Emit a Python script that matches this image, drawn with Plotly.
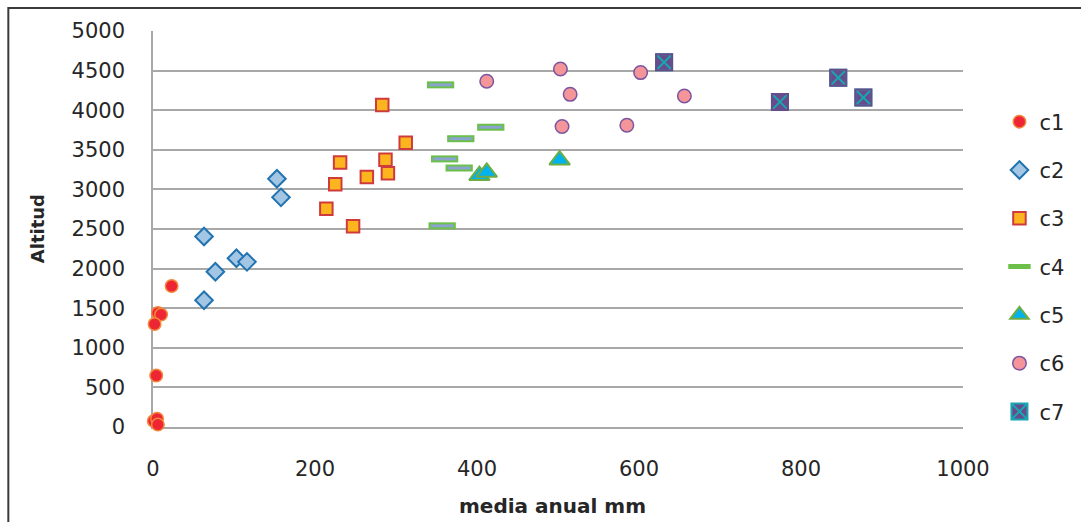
import plotly.graph_objects as go

# Precipitation (media anual, mm) vs altitude (m) for seven station clusters
c1_x = [23, 6, 10, 2, 4, 1, 5, 6]
c1_y = [1780, 1440, 1420, 1300, 650, 75, 105, 30]

c2_x = [153, 158, 63, 103, 116, 77, 63]
c2_y = [3135, 2900, 2405, 2130, 2085, 1960, 1600]

c3_x = [283, 312, 231, 287, 290, 264, 225, 214, 247]
c3_y = [4065, 3590, 3340, 3375, 3205, 3155, 3065, 2755, 2535]

c4_x = [355, 417, 380, 360, 378, 357]
c4_y = [4320, 3785, 3640, 3385, 3270, 2540]

c5_x = [403, 412, 502]
c5_y = [3175, 3215, 3370]

c6_x = [412, 503, 515, 505, 602, 585, 656]
c6_y = [4365, 4520, 4200, 3795, 4475, 3810, 4180]

c7_x = [631, 774, 846, 877]
c7_y = [4605, 4105, 4410, 4160]

x_ticks = [0, 200, 400, 600, 800, 1000]
y_ticks = [0, 500, 1000, 1500, 2000, 2500, 3000, 3500, 4000, 4500, 5000]

FONT = "DejaVu Sans"
TEXT = "#262626"
GRID = "#A8A8A8"

fig = go.Figure()


def add(name, xs, ys, marker, showlegend=True):
    fig.add_trace(go.Scatter(
        x=xs, y=ys, mode="markers", name=name,
        legendgroup=name, showlegend=showlegend,
        marker=marker, cliponaxis=False,
    ))


add("c1", c1_x, c1_y, dict(symbol="circle", size=12.5, color="#EE2634",
                           line=dict(color="#F3873A", width=1.5)))
add("c2", c2_x, c2_y, dict(symbol="diamond", size=13.5, color="#A3C6E4",
                           line=dict(color="#2274B0", width=2)))
add("c3", c3_x, c3_y, dict(symbol="square", size=12.5, color="#FDB51F",
                           line=dict(color="#D03A3C", width=2)))
# dash marker: wide green bar with a blue-grey core
add("c4", c4_x, c4_y, dict(symbol="line-ew", size=19.5, color="#6CC04A",
                           line=dict(color="#6CC04A", width=7)))
add("c4", c4_x, c4_y, dict(symbol="line-ew", size=16.5, color="#8AA3CF",
                           line=dict(color="#8AA3CF", width=3)), showlegend=False)
add("c5", c5_x, c5_y, dict(symbol="triangle-up", size=18, color="#00B2EE",
                           line=dict(color="#6EAD45", width=2)))
add("c6", c6_x, c6_y, dict(symbol="circle", size=13.5, color="#F4959A",
                           line=dict(color="#7B55A0", width=1.5)))
add("c7", c7_x, c7_y, dict(symbol="square-x", size=16, color="#684B8A",
                           line=dict(color="#17A6B2", width=2)))
add("c7", c7_x, c7_y, dict(symbol="square-open", size=16, color="#684B8A",
                           line=dict(color="#684B8A", width=2)), showlegend=False)

fig.update_layout(
    width=1081, height=522,
    margin=dict(l=153, r=116, t=31, b=95, pad=0),
    paper_bgcolor="white", plot_bgcolor="white",
    font=dict(family=FONT, size=21, color=TEXT),
    showlegend=True,
    legend=dict(
        x=1.045, xanchor="left", y=0.404, yanchor="middle",
        traceorder="grouped", tracegroupgap=18,
        font=dict(family=FONT, size=21, color=TEXT),
        bgcolor="rgba(0,0,0,0)", itemsizing="trace",
    ),
    xaxis=dict(
        range=[0, 1000], tickvals=x_ticks, showgrid=False, zeroline=False,
        showline=True, linecolor=GRID, linewidth=1.5, layer="below traces",
        ticks="outside", ticklen=22, tickcolor="rgba(0,0,0,0)",
        tickfont=dict(family=FONT, size=21, color=TEXT),
    ),
    yaxis=dict(
        range=[0, 5000], tickvals=y_ticks, showgrid=True, gridcolor=GRID,
        gridwidth=1.5, zeroline=False,
        showline=True, linecolor=GRID, linewidth=1.5, layer="below traces",
        ticks="outside", ticklen=22, tickcolor="rgba(0,0,0,0)",
        tickfont=dict(family=FONT, size=21, color=TEXT),
    ),
    annotations=[
        dict(text="<b>media anual mm</b>", xref="paper", yref="paper",
             x=0.4926, y=-0.199, xanchor="center", yanchor="middle",
             showarrow=False, font=dict(family=FONT, size=20, color=TEXT)),
        dict(text="<b>Altitud</b>", xref="paper", yref="paper",
             x=-0.143, y=0.5, xanchor="center", yanchor="middle",
             textangle=-90, showarrow=False,
             font=dict(family=FONT, size=18, color=TEXT)),
    ],
    shapes=[
        dict(type="rect", xref="paper", yref="paper",
             x0=-0.1786, x1=1.16, y0=-0.27, y1=1.058,
             line=dict(color="#3A3A3A", width=2), fillcolor="rgba(0,0,0,0)",
             layer="below"),
    ],
)

fig.write_html("out.html")
